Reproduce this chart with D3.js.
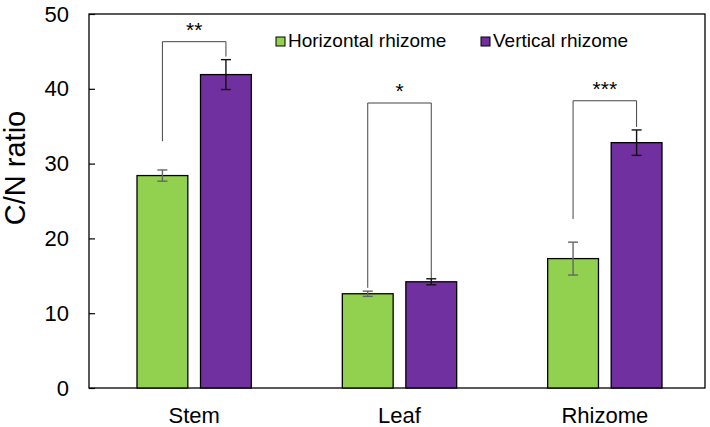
<!DOCTYPE html>
<html>
<head>
<meta charset="utf-8">
<script src="https://cdn.jsdelivr.net/npm/d3@7"></script>
<style>
  body { margin: 0; background: #fff; }
  text { font-family: "Liberation Sans", Arial, sans-serif; }
</style>
</head>
<body>
<div id="chart"></div>
<script>
// data
const categories = ['Stem', 'Leaf', 'Rhizome'];
const seriesNames = ['Horizontal rhizome', 'Vertical rhizome'];
const horizontal = [28.4, 12.6, 17.3];
const horizontalErr = [0.75, 0.35, 2.2];
const vertical = [41.9, 14.2, 32.8];
const verticalErr = [2.0, 0.4, 1.7];
const yTicks = [0, 10, 20, 30, 40, 50];
const signif = ['**', '*', '***'];
// bracket ends in data units: [left bottom, top, right bottom]
const bracketLevels = [[33, 46.3, 44.3], [13.4, 38.1, 14.7], [22.6, 38.4, 34.9]];

const colors = ['#92d050', '#7030a0'];
const errColors = ['#666', '#111'];

const svg = d3.select('#chart')
    .append('svg')
    .attr('width', 710)
    .attr('height', 427);

const margin = { top: 14, right: 5, bottom: 39, left: 89 };
const width = +svg.attr('width') - margin.left - margin.right;
const height = +svg.attr('height') - margin.top - margin.bottom;

const g = svg.append('g')
    .attr('transform', 'translate(' + margin.left + ',' + margin.top + ')');

const x0 = d3.scaleBand()
    .domain(categories)
    .range([0, width])
    .paddingInner(0)
    .paddingOuter(0);

const x1 = d3.scaleBand()
    .domain([0, 1])
    .range([48, x0.bandwidth() - 43])
    .paddingInner(0.2);

const y = d3.scaleLinear()
    .domain([0, 50])
    .range([height, 0]);

// frame
g.append('rect')
    .attr('x', 0).attr('y', 0)
    .attr('width', width).attr('height', height)
    .attr('fill', 'none')
    .attr('stroke', '#000')
    .attr('stroke-width', 1.3);

// y axis
const yAxis = g.append('g')
    .call(d3.axisLeft(y).tickValues(yTicks).tickSize(-6).tickPadding(20));
yAxis.select('.domain').remove();
yAxis.selectAll('.tick line').attr('stroke', '#000').attr('stroke-width', 1.2);
yAxis.selectAll('text')
    .style('font-size', '22px')
    .attr('fill', '#000');

g.append('text')
    .attr('transform', 'rotate(-90)')
    .attr('x', -154)
    .attr('y', -64)
    .attr('text-anchor', 'middle')
    .style('font-size', '29px')
    .text('C/N ratio');

// x labels
g.selectAll('.xlab')
    .data(categories)
    .enter().append('text')
    .attr('class', 'xlab')
    .attr('x', d => x0(d) + x1(0) + (x1(1) + x1.bandwidth() - x1(0)) / 2)
    .attr('y', height + 35)
    .attr('text-anchor', 'middle')
    .style('font-size', '22px')
    .text(d => d);

// bars
const series = [horizontal, vertical];
const errs = [horizontalErr, verticalErr];
series.forEach((vals, s) => {
    g.selectAll('.bar' + s)
        .data(vals)
        .enter().append('rect')
        .attr('class', 'bar' + s)
        .attr('x', (d, i) => x0(categories[i]) + x1(s))
        .attr('y', d => y(d))
        .attr('width', x1.bandwidth())
        .attr('height', d => height - y(d))
        .attr('fill', colors[s])
        .attr('stroke', '#000')
        .attr('stroke-width', 1.3);

    const eg = g.selectAll('.err' + s)
        .data(vals)
        .enter().append('g')
        .attr('class', 'err' + s)
        .attr('stroke', errColors[s])
        .attr('stroke-width', 1.4);
    const cx = (d, i) => x0(categories[i]) + x1(s) + x1.bandwidth() / 2;
    eg.append('line')
        .attr('x1', cx).attr('x2', cx)
        .attr('y1', (d, i) => y(d - errs[s][i]))
        .attr('y2', (d, i) => y(d + errs[s][i]));
    [-1, 1].forEach(sign => {
        eg.append('line')
            .attr('x1', (d, i) => cx(d, i) - 5).attr('x2', (d, i) => cx(d, i) + 5)
            .attr('y1', (d, i) => y(d + sign * errs[s][i]))
            .attr('y2', (d, i) => y(d + sign * errs[s][i]));
    });
});

// significance brackets
categories.forEach((c, i) => {
    const xl = x0(c) + x1(0) + x1.bandwidth() / 2;
    const xr = x0(c) + x1(1) + x1.bandwidth() / 2;
    const b = bracketLevels[i];
    g.append('path')
        .attr('d', 'M' + xl + ',' + y(b[0]) + 'V' + y(b[1]) + 'H' + xr + 'V' + y(b[2]))
        .attr('fill', 'none')
        .attr('stroke', '#444')
        .attr('stroke-width', 1);
    g.append('text')
        .attr('x', (xl + xr) / 2)
        .attr('y', y(b[1]) - 5)
        .attr('text-anchor', 'middle')
        .style('font-size', '21px')
        .text(signif[i]);
});

// legend
const legendX = [187, 392];
const legend = g.selectAll('.legend')
    .data(seriesNames)
    .enter().append('g')
    .attr('class', 'legend')
    .attr('transform', (d, i) => 'translate(' + legendX[i] + ',23)');
legend.append('rect')
    .attr('width', 9).attr('height', 9)
    .attr('fill', (d, i) => colors[i])
    .attr('stroke', '#000')
    .attr('stroke-width', 1);
legend.append('text')
    .attr('x', 12)
    .attr('y', 10)
    .style('font-size', '19px')
    .text(d => d);
</script>
</body>
</html>
